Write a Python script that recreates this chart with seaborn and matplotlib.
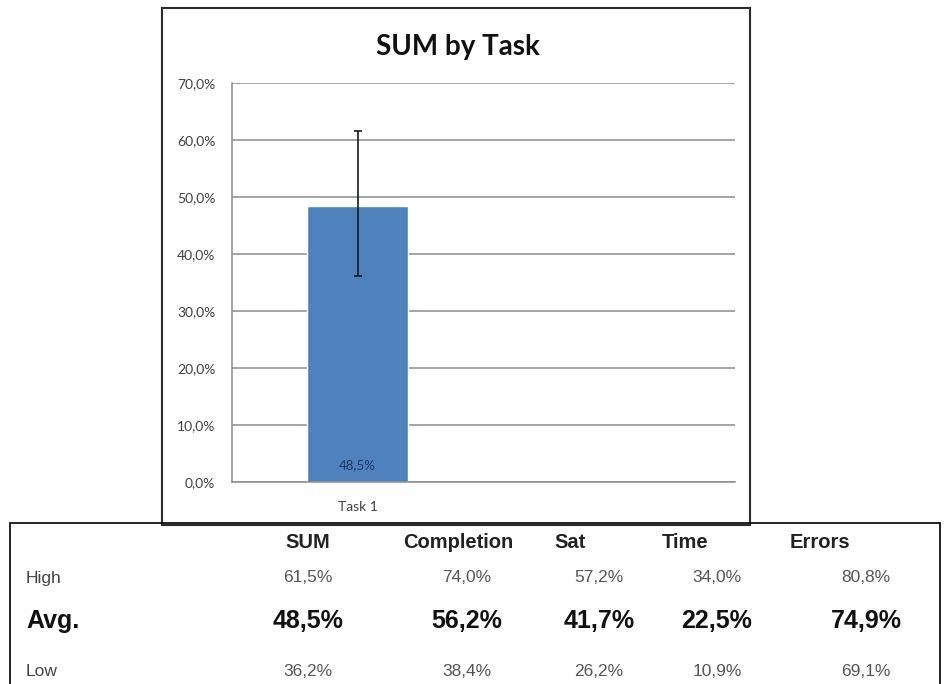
import numpy as np
import pandas as pd
import seaborn as sns
import matplotlib.pyplot as plt
from matplotlib.patches import Rectangle
from matplotlib.ticker import FuncFormatter, FixedLocator


# chart data
task_slots = ["Task 1", " "]
tasks = ["Task 1"]
sum_avg = [48.5]
sum_low = [36.2]
sum_high = [61.5]

# summary table
metrics = ["SUM", "Completion", "Sat", "Time", "Errors"]
high_vals = [61.5, 74.0, 57.2, 34.0, 80.8]
avg_vals = [48.5, 56.2, 41.7, 22.5, 74.9]
low_vals = [36.2, 38.4, 26.2, 10.9, 69.1]


def pct(v):
    return f"{v:.1f}%".replace(".", ",")


sns.set_style("white")
plt.rcParams["font.family"] = ["Lato", "DejaVu Sans"]

W, H = 945, 684
fig = plt.figure(figsize=(W / 100, H / 100), dpi=100)


def fx(x):
    return x / W


def fy(y):
    return 1 - y / H


ax = fig.add_axes([fx(232), fy(482), fx(735) - fx(232), fy(83) - fy(482)])

df = pd.DataFrame({"Task": tasks, "SUM": sum_avg})
sns.barplot(data=df, x="Task", y="SUM", order=task_slots, color="#4F81BD",
            saturation=1, width=0.4, errorbar=None, ax=ax, zorder=2)

err_lo = np.array(sum_avg) - np.array(sum_low)
err_hi = np.array(sum_high) - np.array(sum_avg)
ax.errorbar(x=range(len(tasks)), y=sum_avg, yerr=[err_lo, err_hi], fmt="none",
            ecolor="#1a1a1a", elinewidth=1.2, capsize=3, capthick=1.2, zorder=3)

for i, v in enumerate(sum_avg):
    ax.text(i, 3.0, pct(v), ha="center", va="center", fontsize=9.5,
            color="#1F3864", zorder=4)

ax.set_ylim(0, 70)
ax.set_xlim(-0.5, 1.5)
ax.set_yticks(range(0, 71, 10))
ax.yaxis.set_major_formatter(FuncFormatter(lambda v, p: pct(v)))
ax.set_xlabel("")
ax.set_ylabel("")
ax.yaxis.grid(True, color="#8c8c8c", lw=1.1)
ax.set_axisbelow(True)
for s in ["top", "right"]:
    ax.spines[s].set_visible(False)
for s in ["left", "bottom"]:
    ax.spines[s].set_color("#8c8c8c")
    ax.spines[s].set_linewidth(1.1)
ax.tick_params(axis="y", length=4, color="#8c8c8c", width=1.1, pad=8,
               labelsize=10, labelcolor="#404040")
ax.tick_params(axis="x", which="major", length=0, pad=14, labelsize=10,
               labelcolor="#404040")
ax.xaxis.set_minor_locator(FixedLocator([-0.5, 0.5, 1.5]))
ax.tick_params(axis="x", which="minor", length=4, color="#8c8c8c", width=1.1)

fig.text(fx(458), fy(47), "SUM by Task", ha="center", va="center",
         fontsize=20, fontweight="bold", color="#111111")

# chart frame
fig.add_artist(Rectangle((fx(162), fy(525)), fx(750) - fx(162), fy(8) - fy(525),
                         transform=fig.transFigure, fill=False, ec="#2b2b2b", lw=1.5))

# table frame
fig.add_artist(Rectangle((fx(10), -0.02), fx(940) - fx(10), fy(523) + 0.02,
                         transform=fig.transFigure, fill=False, ec="#111111", lw=1.3))

tfont = ["Liberation Sans", "DejaVu Sans"]
head_x = [308, 458, 570, 685, 820]
val_x = [308, 467, 599, 717, 866]

for m, x in zip(metrics, head_x):
    fig.text(fx(x), fy(543), m, ha="center", va="center", fontsize=14.5,
             fontweight="bold", color="#222222", family=tfont)

fig.text(fx(26), fy(578), "High", ha="left", va="center", fontsize=12.5,
         color="#444444", family=tfont)
fig.text(fx(26), fy(621), "Avg.", ha="left", va="center", fontsize=18,
         fontweight="bold", color="#111111", family=tfont)
fig.text(fx(26), fy(671), "Low", ha="left", va="center", fontsize=12.5,
         color="#444444", family=tfont)

for x, h, a, l in zip(val_x, high_vals, avg_vals, low_vals):
    fig.text(fx(x), fy(578), pct(h), ha="center", va="center", fontsize=12.5,
             color="#555555", family=tfont)
    fig.text(fx(x), fy(621), pct(a), ha="center", va="center", fontsize=18,
             fontweight="bold", color="#111111", family=tfont)
    fig.text(fx(x), fy(671), pct(l), ha="center", va="center", fontsize=12.5,
             color="#555555", family=tfont)

fig.savefig("out.png", dpi=100)
